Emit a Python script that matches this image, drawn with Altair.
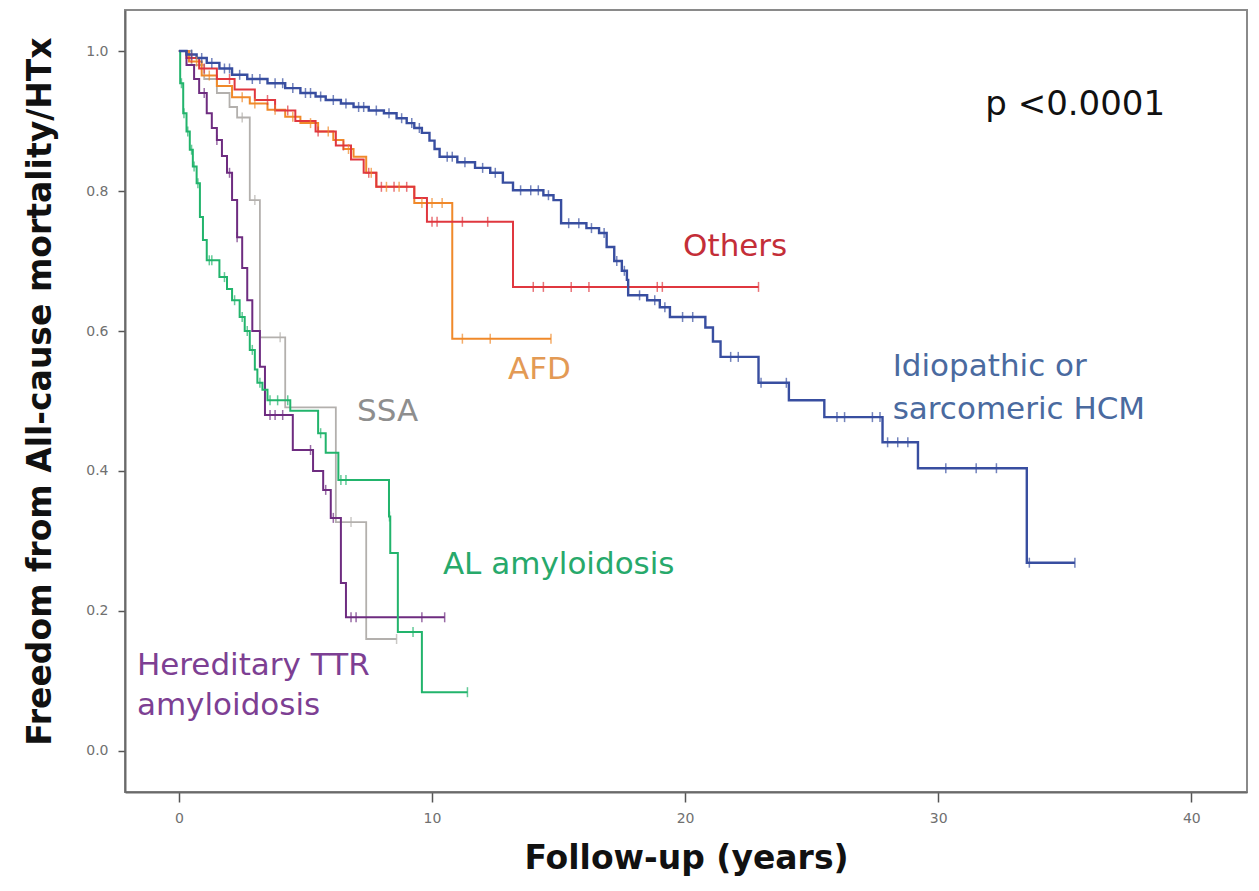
import altair as alt
import pandas as pd

# ---------------- Kaplan-Meier step data (years, survival) ----------------
# Idiopathic or sarcomeric HCM
hcm_t = [0, 0.3, 0.7, 1.1, 1.6, 2.1, 2.7, 3.5, 4.2, 4.8,
         5.4, 5.8, 6.4, 6.9, 7.5, 8.1, 8.6, 9.0, 9.3, 9.6,
         9.9, 10.1, 10.3, 11.0, 11.7, 12.3, 12.8, 13.2, 14.4, 14.8,
         15.1, 16.1, 16.6, 16.9, 17.2, 17.5, 17.7, 17.75, 18.5, 19.0,
         19.4, 20.8, 21.1, 21.4, 22.9, 24.1, 25.5, 27.8, 29.2, 33.5,
         35.4]
hcm_s = [1.0, 0.995, 0.99, 0.983, 0.975, 0.966, 0.96, 0.954, 0.947, 0.94,
         0.935, 0.93, 0.925, 0.92, 0.915, 0.911, 0.904, 0.897, 0.89, 0.883,
         0.872, 0.86, 0.849, 0.841, 0.833, 0.826, 0.812, 0.801, 0.794, 0.787,
         0.754, 0.747, 0.74, 0.72, 0.70, 0.686, 0.673, 0.651, 0.644, 0.634,
         0.62, 0.605, 0.585, 0.563, 0.526, 0.501, 0.477, 0.441, 0.404, 0.269,
         0.269]
hcm_cens = [0.5, 0.9, 1.3, 1.8, 2.0, 2.4, 2.9, 3.2, 3.8, 4.1, 4.5, 5.0, 5.2,
            5.6, 6.1, 6.6, 7.1, 7.3, 7.8, 8.3, 8.8, 9.2, 9.5, 10.6, 10.8,
            11.3, 12.0, 12.5, 13.5, 13.9, 14.2, 14.6, 15.4, 15.8, 16.3, 16.8,
            17.3, 17.6, 18.2, 18.8, 19.2, 19.9, 20.3, 21.8, 22.1, 23.0, 24.0,
            26.0, 26.3, 27.4, 27.7, 28.0, 28.4, 28.8, 30.3, 31.5, 32.3, 33.6, 35.4]

# Others
oth_t = [0, 0.3, 0.8, 1.5, 2.2, 3.0, 3.8, 4.6, 5.4, 6.2, 6.8, 7.3, 7.8, 9.3, 9.8, 13.2, 22.9]
oth_s = [1.0, 0.99, 0.975, 0.96, 0.945, 0.93, 0.915, 0.9, 0.885, 0.865, 0.845, 0.826, 0.806,
         0.79, 0.756, 0.663, 0.663]
oth_cens = [0.5, 1.0, 2.0, 3.5, 4.3, 5.5, 6.5, 7.5, 8.0, 8.5, 9.0, 10.0, 10.2, 11.2, 12.2,
            14.0, 14.4, 15.5, 16.2, 18.9, 19.1, 22.9]

# AFD
afd_t = [0, 0.4, 0.9, 1.5, 2.1, 2.8, 3.5, 4.2, 4.8, 5.5, 6.1, 6.5, 6.9, 7.4, 7.8, 9.3, 10.8, 14.7]
afd_s = [1.0, 0.985, 0.965, 0.95, 0.934, 0.925, 0.916, 0.906, 0.897, 0.885, 0.873, 0.86,
         0.849, 0.826, 0.806, 0.783, 0.589, 0.589]
afd_cens = [0.7, 1.2, 2.5, 3.0, 3.8, 4.5, 5.2, 5.9, 6.7, 7.6, 8.2, 8.7, 9.6, 10.0, 10.4,
            11.2, 12.3, 14.7]

# SSA
ssa_t = [0, 0.5, 1.0, 1.5, 2.0, 2.3, 2.8, 3.2, 4.2, 6.2, 7.4, 8.6]
ssa_s = [1.0, 0.98, 0.96, 0.94, 0.92, 0.905, 0.787, 0.591, 0.491, 0.327, 0.16, 0.16]
ssa_cens = [2.5, 3.0, 4.0, 6.8, 8.6]

# AL amyloidosis
al_t = [0, 0.05, 0.17, 0.3, 0.43, 0.55, 0.7, 0.83, 0.95, 1.1, 1.6, 1.9, 2.1, 2.4, 2.6,
        2.8, 3.0, 3.1, 3.3, 3.5, 4.4, 5.5, 5.8, 6.3, 8.3, 8.35, 8.65, 9.6, 11.4]
al_s = [1.0, 0.954, 0.911, 0.885, 0.859, 0.835, 0.811, 0.763, 0.73, 0.701, 0.677, 0.66,
        0.644, 0.62, 0.6, 0.573, 0.545, 0.526, 0.516, 0.501, 0.486, 0.454, 0.426, 0.387,
        0.335, 0.283, 0.17, 0.084, 0.084]
al_cens = [0.1, 0.2, 0.35, 0.5, 0.6, 0.75, 1.2, 1.3, 1.8, 2.2, 2.5, 2.7, 2.9, 3.2, 3.6,
           3.9, 4.3, 5.6, 6.4, 6.6, 8.32, 9.25, 11.4]

# Hereditary TTR amyloidosis
ttr_t = [0, 0.3, 0.6, 0.8, 1.1, 1.3, 1.5, 1.7, 1.9, 2.1, 2.3, 2.5, 2.7, 2.9, 3.2, 3.4,
         4.5, 5.3, 5.7, 6.0, 6.4, 6.6, 10.5]
ttr_s = [1.0, 0.98, 0.96, 0.94, 0.911, 0.89, 0.873, 0.85, 0.826, 0.787, 0.734, 0.69,
         0.644, 0.6, 0.549, 0.48, 0.43, 0.40, 0.373, 0.333, 0.24, 0.191, 0.191]
ttr_cens = [1.0, 1.5, 2.0, 2.3, 3.6, 3.8, 4.1, 5.2, 5.8, 6.1, 6.8, 7.0, 9.6, 10.5]

groups = ["SSA", "AFD", "Others", "Hereditary TTR amyloidosis", "AL amyloidosis",
          "Idiopathic or sarcomeric HCM"]
group_colors = ["#b3b0ad", "#f0892a", "#e0373f", "#6e2c80", "#22b46c", "#384ea0"]
group_widths = [1.8, 2.0, 2.0, 2.0, 2.0, 2.4]
series = {
    "SSA": (ssa_t, ssa_s, ssa_cens),
    "AFD": (afd_t, afd_s, afd_cens),
    "Others": (oth_t, oth_s, oth_cens),
    "Hereditary TTR amyloidosis": (ttr_t, ttr_s, ttr_cens),
    "AL amyloidosis": (al_t, al_s, al_cens),
    "Idiopathic or sarcomeric HCM": (hcm_t, hcm_s, hcm_cens),
}

# annotation labels
lab_text = ["p <0.0001", "Others", "AFD", "Idiopathic or", "sarcomeric HCM", "SSA",
            "AL amyloidosis", "Hereditary TTR", "amyloidosis"]
lab_t = [31.86, 19.92, 13.0, 28.2, 28.2, 7.04, 10.43, -1.66, -1.66]
lab_s = [0.923, 0.72, 0.544, 0.549, 0.487, 0.484, 0.266, 0.121, 0.064]
lab_size = [34, 31, 31, 31, 31, 31, 31, 31, 31]
lab_color = ["#111111", "#c42e38", "#e39a55", "#4a6a9f", "#4a6a9f", "#8e8e8e",
             "#27a96b", "#7d3f93", "#7d3f93"]

# ---------------- build tables ----------------
rows, cens_rows = [], []
for g, w in zip(groups, group_widths):
    ts, ss, cs = series[g]
    for i, (t, s) in enumerate(zip(ts, ss)):
        rows.append({"group": g, "t": t, "s": s, "order": i, "w": w})
    for c in cs:
        val = ss[0]
        for t, s in zip(ts, ss):
            if t <= c:
                val = s
        cens_rows.append({"group": g, "t": c, "s": val})
df = pd.DataFrame(rows)
cdf = pd.DataFrame(cens_rows)
ldf = pd.DataFrame({"text": lab_text, "t": lab_t, "s": lab_s, "color": lab_color,
                    "size": lab_size})

xscale = alt.Scale(domain=[-2.13, 42.2], nice=False, zero=False)
yscale = alt.Scale(domain=[-0.0586, 1.0586], nice=False, zero=False)
color = alt.Color("group:N", scale=alt.Scale(domain=groups, range=group_colors), legend=None)

x_axis = alt.Axis(values=[0, 10, 20, 30, 40], grid=False, title="Follow-up (years)",
                  tickSize=10, labelPadding=9, titleX=561, titleY=66,
                  titleBaseline="middle", titleAlign="center")
y_axis = alt.Axis(values=[0, 0.2, 0.4, 0.6, 0.8, 1.0], format=".1f", grid=False,
                  title="Freedom from All-cause mortality/HTx", tickSize=7, labelPadding=10,
                  titleX=-85, titleY=381, titleAngle=-90, titleBaseline="middle",
                  titleAlign="center")

lines = alt.Chart(df).mark_line(interpolate="step-after").encode(
    x=alt.X("t:Q", scale=xscale, axis=x_axis),
    y=alt.Y("s:Q", scale=yscale, axis=y_axis),
    color=color,
    strokeWidth=alt.StrokeWidth("w:Q", scale=None),
    order="order:Q",
    detail="group:N",
)

ticks = alt.Chart(cdf).mark_tick(orient="vertical", size=10, thickness=1.5).encode(
    x=alt.X("t:Q", scale=xscale),
    y=alt.Y("s:Q", scale=yscale),
    color=color,
)

labels = alt.Chart(ldf).mark_text(align="left", baseline="middle", font="DejaVu Sans").encode(
    x=alt.X("t:Q", scale=xscale),
    y=alt.Y("s:Q", scale=yscale),
    text="text:N",
    size=alt.Size("size:Q", scale=None),
    color=alt.Color("color:N", scale=None),
)

chart = alt.layer(lines, ticks, labels).properties(
    width=1122, height=782,
    autosize=alt.AutoSizeParams(type="none"),
    padding={"left": 125, "top": 10, "right": 12, "bottom": 99},
    background="white",
).configure_view(
    stroke="#8a8a8a", strokeWidth=2
).configure_axis(
    domainColor="#6a6a6a", domainWidth=2, tickColor="#555555", tickWidth=1.5,
    labelColor="#707070", labelFont="DejaVu Sans", labelFontSize=14,
    titleFont="DejaVu Sans", titleFontSize=33, titleFontWeight="bold", titleColor="#111111",
)

chart.save("out.html", embed_options={"renderer": "svg", "actions": False})
